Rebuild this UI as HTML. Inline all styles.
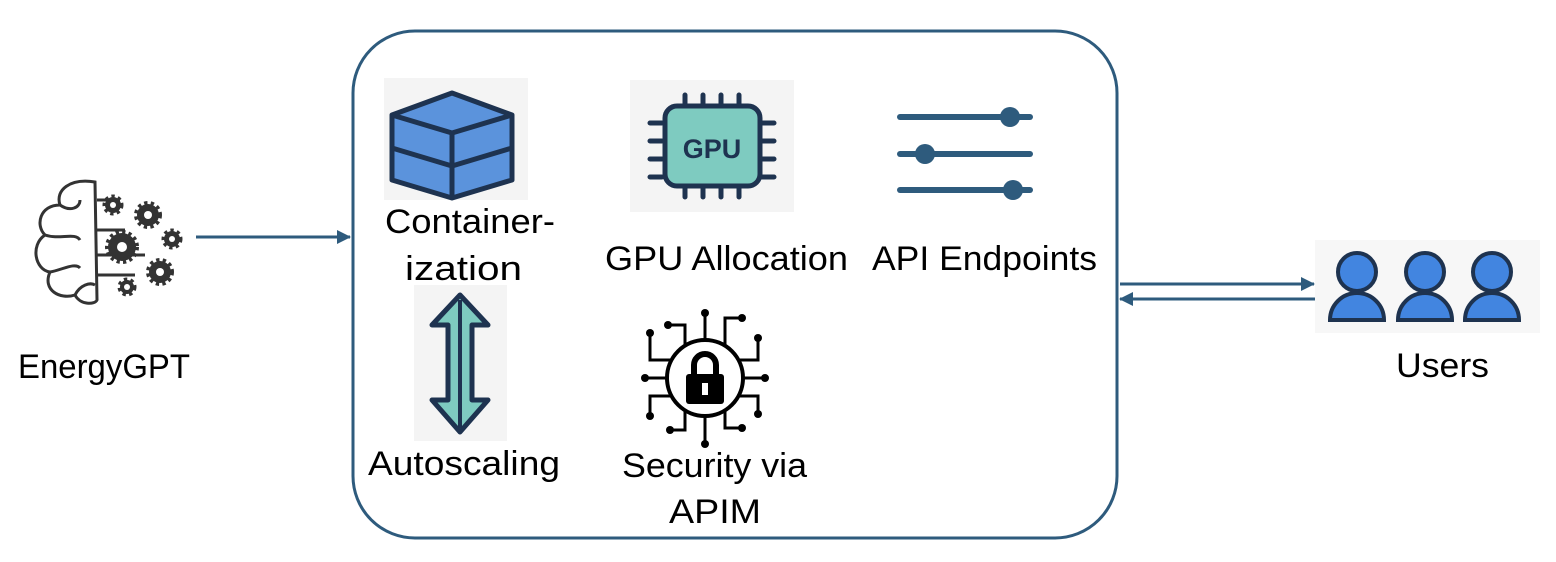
<!DOCTYPE html>
<html><head><meta charset="utf-8"><style>
html,body{margin:0;padding:0;background:#fff;}
svg{display:block;}
text{font-family:"Liberation Sans",Arial,sans-serif;font-size:34px;fill:#000;}
</style></head><body>
<svg width="1556" height="562" viewBox="0 0 1556 562" xmlns="http://www.w3.org/2000/svg">
<defs>
<marker id="ah2" markerWidth="14" markerHeight="14" refX="13" refY="7" orient="auto" markerUnits="userSpaceOnUse">
<path d="M0,0 L14,7 L0,14 Z" fill="#2e5b7d"/></marker>
</defs>
<rect x="353" y="31" width="764" height="507" rx="62" fill="none" stroke="#2e5b7d" stroke-width="3"/>
<line x1="196" y1="237" x2="350" y2="237" stroke="#2e5b7d" stroke-width="3" marker-end="url(#ah2)"/>
<line x1="1120" y1="284" x2="1314" y2="284" stroke="#2e5b7d" stroke-width="3" marker-end="url(#ah2)"/>
<line x1="1315" y1="299" x2="1120" y2="299" stroke="#2e5b7d" stroke-width="3" marker-end="url(#ah2)"/>

<!-- Brain icon -->
<g fill="none" stroke="#333" stroke-width="3">
<path d="M95,182 C70,178 55,190 60,205 C40,205 35,225 45,235 C30,245 35,270 50,272 C42,290 60,300 75,295 C80,305 95,305 97,300 Z"/>
<path d="M60,205 C70,212 80,208 80,200 M45,235 C60,240 75,232 80,240 M50,272 C62,270 75,262 80,268 M75,295 C80,285 90,282 95,285"/>
<path d="M97,200 H120 M97,230 H125 M97,255 H145 M97,275 H135"/>
</g>
<g fill="#333" stroke="#333" stroke-dasharray="3 3">
<circle cx="113" cy="205" r="8" stroke-width="5"/><circle cx="148" cy="215" r="11" stroke-width="6"/><circle cx="122" cy="247" r="14" stroke-width="6"/>
<circle cx="172" cy="239" r="8" stroke-width="5"/><circle cx="160" cy="272" r="11" stroke-width="6"/><circle cx="127" cy="287" r="7" stroke-width="5"/>
</g>
<g fill="#fff"><circle cx="113" cy="205" r="3"/><circle cx="148" cy="215" r="4"/><circle cx="122" cy="247" r="5"/><circle cx="172" cy="239" r="3"/><circle cx="160" cy="272" r="4"/><circle cx="127" cy="287" r="3"/></g>

<!-- Container icon -->
<rect x="384" y="78" width="144" height="122" fill="#f4f4f4"/>
<g stroke="#1e3350" stroke-width="5" stroke-linejoin="round">
<path d="M392,115 L452,93 L512,115 L512,180 L452,198 L392,180 Z" fill="#5b93dc"/>
<path d="M392,115 L452,133 L512,115 M452,133 V198 M392,148 L452,166 L512,148" fill="none"/>
</g>

<!-- GPU icon -->
<rect x="630" y="80" width="164" height="132" fill="#f4f4f4"/>
<g stroke="#1e3350" stroke-width="5" stroke-linecap="round">
<path d="M685,95 V105 M703,95 V105 M721,95 V105 M739,95 V105 M685,187 V197 M703,187 V197 M721,187 V197 M739,187 V197 M650,123 H662 M650,141 H662 M650,159 H662 M650,177 H662 M762,123 H774 M762,141 H774 M762,159 H774 M762,177 H774"/>
<rect x="665" y="106" width="95" height="80" rx="12" fill="#7ecbc0"/>
</g>
<text x="712" y="158" text-anchor="middle" style="font-size:27px;font-weight:bold;fill:#1e3350">GPU</text>

<!-- Sliders -->
<g stroke="#2e5b7d" stroke-width="6" stroke-linecap="round">
<line x1="900" y1="117" x2="1030" y2="117"/><line x1="900" y1="154" x2="1030" y2="154"/><line x1="900" y1="190" x2="1030" y2="190"/>
</g>
<g fill="#2e5b7d"><circle cx="1010" cy="117" r="10"/><circle cx="925" cy="154" r="10"/><circle cx="1013" cy="190" r="10"/></g>

<!-- Autoscaling icon -->
<rect x="414" y="285" width="93" height="156" fill="#f4f4f4"/>
<path d="M460,295 L488,325 L472,325 L472,400 L488,400 L460,432 L432,400 L448,400 L448,325 L432,325 Z" fill="#7ecbc0" stroke="#1e3350" stroke-width="5" stroke-linejoin="round"/>
<line x1="460" y1="300" x2="460" y2="428" stroke="#1e3350" stroke-width="4"/>

<!-- Security icon -->
<g stroke="#000" stroke-width="3" fill="none">
<circle cx="705" cy="378" r="38" stroke-width="4"/>
<path d="M705,340 V315 M705,416 V442 M667,378 H647 M743,378 H763 M685,345 V325 H670 M725,345 V318 H740 M685,411 V430 H672 M725,411 V428 H740 M670,360 H650 V335 M740,360 H758 V340 M670,396 H650 V414 M740,396 H758 V412"/>
</g>
<g fill="#000">
<circle cx="705" cy="313" r="4"/><circle cx="705" cy="444" r="4"/><circle cx="645" cy="378" r="4"/><circle cx="765" cy="378" r="4"/>
<circle cx="668" cy="325" r="4"/><circle cx="742" cy="318" r="4"/><circle cx="670" cy="430" r="4"/><circle cx="742" cy="428" r="4"/>
<circle cx="650" cy="333" r="4"/><circle cx="758" cy="338" r="4"/><circle cx="650" cy="416" r="4"/><circle cx="758" cy="414" r="4"/>
<rect x="686" y="374" width="38" height="30" rx="3"/>
</g>
<path d="M694,375 V365 A11,11 0 0 1 716,365 V375" fill="none" stroke="#000" stroke-width="6"/>
<rect x="702" y="383" width="6" height="12" fill="#fff"/>

<!-- Users icon -->
<rect x="1315" y="240" width="225" height="93" fill="#f7f7f7"/>
<g fill="#4285e0" stroke="#1e3350" stroke-width="4">
<circle cx="1357" cy="272" r="19"/><path d="M1330,320 A27,27 0 0 1 1384,320 Z"/>
<circle cx="1425" cy="272" r="19"/><path d="M1398,320 A27,27 0 0 1 1452,320 Z"/>
<circle cx="1492" cy="272" r="19"/><path d="M1465,320 A27,27 0 0 1 1519,320 Z"/>
</g>

<!-- Labels -->
<text x="18" y="378" textLength="172" lengthAdjust="spacingAndGlyphs">EnergyGPT</text>
<text x="385" y="233" textLength="170" lengthAdjust="spacingAndGlyphs">Container-</text>
<text x="405" y="280" textLength="117" lengthAdjust="spacingAndGlyphs">ization</text>
<text x="605" y="270" textLength="243" lengthAdjust="spacingAndGlyphs">GPU Allocation</text>
<text x="872" y="270" textLength="225" lengthAdjust="spacingAndGlyphs">API Endpoints</text>
<text x="368" y="475" textLength="192" lengthAdjust="spacingAndGlyphs">Autoscaling</text>
<text x="622" y="477" textLength="185" lengthAdjust="spacingAndGlyphs">Security via</text>
<text x="669" y="523" textLength="92" lengthAdjust="spacingAndGlyphs">APIM</text>
<text x="1396" y="377" textLength="93" lengthAdjust="spacingAndGlyphs">Users</text>
</svg>
</body></html>
